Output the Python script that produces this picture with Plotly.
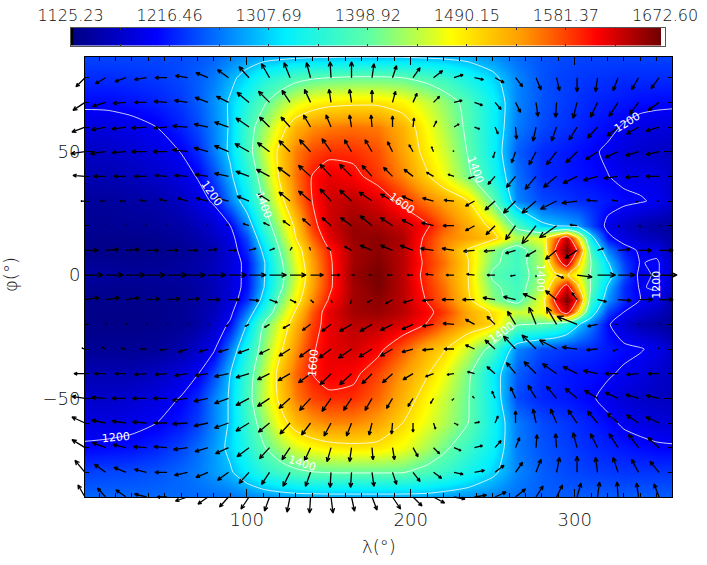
#%%
import numpy as np
import plotly.graph_objects as go

# Colour bar limits and labels
bar_vals = [1125.23, 1216.46, 1307.69, 1398.92, 1490.15, 1581.37, 1672.60]
bar_text = ['1125.23', '1216.46', '1307.69', '1398.92', '1490.15', '1581.37', '1672.60']

# Temperature field, rows north to south
lon = [0, 15, 30, 45, 60, 70, 80, 90, 100, 110, 120, 130, 140, 150, 165, 180, 195, 210, 220, 235, 250, 265, 280, 288, 295, 302, 310, 320, 330, 340, 350, 360]
lat = [90, 80, 70, 60, 50, 40, 30, 20, 15, 10, 5, 0, -5, -10, -15, -20, -30, -40, -50, -60, -70, -80, -90]
temp = [
    [1240, 1240, 1240, 1240, 1241, 1245, 1250, 1262, 1272, 1275, 1276, 1277, 1278, 1278, 1279, 1279, 1279, 1278, 1278, 1278, 1270, 1255, 1245, 1242, 1240, 1238, 1238, 1238, 1238, 1238, 1238, 1238],
    [1225, 1225, 1228, 1232, 1240, 1250, 1265, 1290, 1315, 1345, 1365, 1385, 1395, 1400, 1405, 1405, 1400, 1385, 1370, 1340, 1310, 1270, 1245, 1238, 1235, 1232, 1230, 1228, 1225, 1225, 1225, 1225],
    [1208, 1208, 1212, 1220, 1232, 1250, 1275, 1305, 1350, 1392, 1430, 1460, 1478, 1488, 1492, 1492, 1480, 1450, 1425, 1385, 1330, 1270, 1245, 1238, 1232, 1228, 1222, 1218, 1214, 1210, 1208, 1207],
    [1180, 1183, 1190, 1200, 1220, 1240, 1270, 1305, 1375, 1425, 1480, 1525, 1545, 1555, 1560, 1555, 1525, 1475, 1440, 1390, 1330, 1265, 1240, 1232, 1228, 1222, 1215, 1208, 1197, 1188, 1183, 1180],
    [1165, 1168, 1175, 1185, 1201, 1225, 1265, 1308, 1375, 1445, 1510, 1555, 1578, 1590, 1590, 1575, 1535, 1485, 1455, 1397, 1330, 1250, 1225, 1220, 1215, 1210, 1205, 1195, 1180, 1172, 1168, 1165],
    [1155, 1155, 1160, 1170, 1185, 1202, 1240, 1292, 1350, 1425, 1505, 1560, 1602, 1620, 1610, 1585, 1550, 1505, 1470, 1410, 1345, 1260, 1225, 1220, 1215, 1212, 1208, 1201, 1192, 1190, 1185, 1170],
    [1140, 1140, 1145, 1150, 1165, 1185, 1205, 1265, 1325, 1400, 1480, 1550, 1600, 1630, 1640, 1625, 1590, 1555, 1535, 1500, 1400, 1270, 1240, 1235, 1230, 1225, 1222, 1215, 1208, 1203, 1195, 1175],
    [1135, 1135, 1137, 1140, 1148, 1160, 1175, 1200, 1270, 1360, 1440, 1510, 1585, 1630, 1655, 1650, 1635, 1605, 1570, 1530, 1490, 1385, 1310, 1300, 1290, 1280, 1240, 1190, 1170, 1155, 1145, 1140],
    [1130, 1130, 1130, 1133, 1140, 1150, 1165, 1185, 1240, 1335, 1420, 1500, 1565, 1620, 1655, 1660, 1645, 1590, 1555, 1535, 1515, 1440, 1470, 1560, 1640, 1500, 1320, 1210, 1185, 1170, 1160, 1145],
    [1128, 1128, 1128, 1130, 1135, 1143, 1155, 1180, 1225, 1308, 1400, 1475, 1545, 1597, 1650, 1660, 1640, 1585, 1550, 1495, 1420, 1375, 1440, 1600, 1670, 1590, 1370, 1265, 1215, 1195, 1190, 1150],
    [1135, 1135, 1133, 1135, 1140, 1148, 1160, 1180, 1210, 1290, 1385, 1465, 1535, 1592, 1650, 1665, 1640, 1590, 1560, 1502, 1410, 1375, 1440, 1550, 1640, 1510, 1400, 1305, 1235, 1198, 1205, 1170],
    [1145, 1143, 1140, 1140, 1143, 1150, 1162, 1180, 1210, 1292, 1378, 1455, 1530, 1590, 1655, 1670, 1640, 1585, 1550, 1500, 1392, 1372, 1430, 1490, 1505, 1465, 1395, 1325, 1245, 1190, 1205, 1170],
    [1135, 1133, 1132, 1135, 1138, 1146, 1158, 1178, 1212, 1295, 1385, 1465, 1535, 1592, 1650, 1668, 1640, 1590, 1560, 1502, 1410, 1378, 1440, 1550, 1630, 1510, 1395, 1295, 1225, 1197, 1205, 1170],
    [1130, 1130, 1130, 1132, 1135, 1143, 1155, 1180, 1225, 1315, 1410, 1480, 1548, 1602, 1650, 1660, 1640, 1597, 1565, 1510, 1420, 1380, 1470, 1610, 1672, 1590, 1370, 1275, 1225, 1200, 1185, 1150],
    [1128, 1128, 1128, 1130, 1136, 1147, 1162, 1188, 1265, 1350, 1435, 1505, 1570, 1620, 1650, 1655, 1640, 1610, 1585, 1530, 1495, 1450, 1470, 1560, 1635, 1500, 1330, 1235, 1200, 1180, 1165, 1145],
    [1128, 1128, 1128, 1130, 1135, 1145, 1168, 1208, 1300, 1400, 1465, 1525, 1580, 1618, 1640, 1640, 1625, 1598, 1565, 1530, 1500, 1405, 1395, 1380, 1350, 1305, 1265, 1205, 1175, 1155, 1145, 1135],
    [1135, 1135, 1135, 1138, 1150, 1170, 1195, 1265, 1345, 1420, 1490, 1545, 1595, 1620, 1630, 1610, 1570, 1525, 1505, 1450, 1380, 1270, 1240, 1235, 1230, 1228, 1225, 1215, 1208, 1203, 1190, 1170],
    [1155, 1155, 1155, 1165, 1182, 1198, 1240, 1300, 1372, 1440, 1515, 1565, 1600, 1615, 1608, 1580, 1540, 1503, 1470, 1410, 1325, 1250, 1225, 1220, 1215, 1212, 1210, 1204, 1195, 1185, 1172, 1165],
    [1170, 1170, 1175, 1185, 1202, 1225, 1268, 1305, 1378, 1445, 1508, 1555, 1580, 1592, 1590, 1565, 1525, 1480, 1450, 1403, 1330, 1240, 1222, 1218, 1215, 1210, 1204, 1190, 1178, 1170, 1165, 1163],
    [1185, 1185, 1190, 1200, 1215, 1235, 1270, 1305, 1368, 1420, 1480, 1520, 1540, 1550, 1550, 1535, 1500, 1465, 1440, 1400, 1335, 1265, 1240, 1235, 1230, 1225, 1218, 1208, 1195, 1188, 1180, 1178],
    [1205, 1208, 1212, 1222, 1238, 1258, 1280, 1310, 1350, 1395, 1430, 1458, 1475, 1485, 1490, 1488, 1470, 1435, 1410, 1370, 1330, 1265, 1245, 1240, 1235, 1230, 1225, 1220, 1215, 1210, 1206, 1204],
    [1235, 1238, 1240, 1245, 1255, 1265, 1280, 1295, 1325, 1355, 1375, 1390, 1398, 1402, 1403, 1403, 1402, 1385, 1370, 1340, 1308, 1270, 1250, 1245, 1240, 1238, 1235, 1232, 1230, 1230, 1230, 1230],
    [1255, 1255, 1255, 1256, 1256, 1257, 1258, 1260, 1268, 1275, 1280, 1284, 1285, 1286, 1286, 1286, 1286, 1285, 1280, 1275, 1268, 1258, 1252, 1250, 1250, 1250, 1250, 1250, 1250, 1250, 1250, 1250],
]

# Wind vectors, one column every 12.5 deg and one row every 10 deg, north to south
wind_lon = [1.4, 13.9, 26.4, 38.9, 51.4, 63.9, 76.4, 88.9, 101.4, 113.9, 126.4, 138.9, 151.4, 163.9, 176.4, 188.9, 201.4, 213.9, 226.4, 238.9, 251.4, 263.9, 276.4, 288.9, 301.4, 313.9, 326.4, 338.9, 351.4]
wind_lat = [80, 70, 60, 50, 40, 30, 20, 10, 0, -10, -20, -30, -40, -50, -60, -70, -80, -90]
wind_u = [
    [-9, -10, -11, -12, -12, -12, -12, -11, -10, -8, -6, -4, -1, 0, 2, 4, 7, 9, 9, 9, 9, 7, 5, 3, 0, -2, -5, -7, -8],
    [-12, -13, -13, -12, -13, -13, -13, -12, -12, -11, -8, -6, -2, -2, 0, 3, 4, 6, 8, 8, 6, 5, 2, -1, -4, -7, -9, -9, -11],
    [-13, -14, -14, -15, -13, -15, -14, -14, -13, -10, -9, -7, -5, -2, -1, 0, 1, 3, 5, 5, 3, 1, -3, -5, -8, -10, -11, -12, -13],
    [-14, -15, -14, -15, -14, -15, -14, -14, -14, -12, -11, -11, -9, -7, -7, -5, -4, -2, -1, 0, -2, -4, -7, -10, -11, -12, -13, -13, -13],
    [-12, -12, -12, -12, -12, -13, -13, -14, -13, -13, -12, -12, -11, -12, -10, -9, -9, -7, -6, -6, -7, -9, -11, -13, -14, -14, -14, -13, -13],
    [-4, -5, -6, -7, -8, -10, -12, -12, -12, -11, -11, -12, -11, -12, -13, -12, -11, -11, -10, -9, -10, -12, -14, -16, -15, -11, -6, -3, -2],
    [0, 0, 0, 0, 0, 0, -1, -2, -6, -6, -7, -8, -9, -11, -12, -12, -11, -12, -11, -9, -9, -10, -14, -17, -7, 0, 1, 2, 1],
    [13, 13, 13, 12, 11, 10, 9, 8, 7, 5, 2, -1, -4, -7, -12, -12, -13, -13, -12, -11, -11, -10, -10, -11, -12, 6, 12, 13, 14],
    [18, 18, 19, 19, 20, 18, 18, 18, 17, 17, 16, 13, 9, 3, -3, -5, -6, -8, -8, -8, -8, -5, 0, 7, 15, 18, 17, 18, 18],
    [14, 14, 13, 13, 13, 12, 12, 11, 10, 8, 6, 3, 1, -1, -5, -7, -10, -11, -12, -12, -12, -12, -13, -11, -5, 9, 13, 14, 14],
    [2, 1, 1, 1, 1, 1, 0, -3, -4, -5, -7, -8, -9, -12, -12, -12, -11, -11, -11, -9, -8, -8, -7, -10, -20, -10, -3, 1, 1],
    [-3, -4, -5, -6, -7, -9, -9, -10, -11, -10, -11, -11, -12, -13, -13, -12, -11, -11, -10, -9, -10, -12, -14, -17, -15, -11, -5, 0, -1],
    [-11, -11, -11, -12, -12, -13, -13, -14, -13, -12, -12, -12, -11, -12, -10, -10, -10, -8, -7, -7, -8, -9, -12, -14, -14, -14, -13, -12, -11],
    [-13, -14, -14, -14, -14, -15, -14, -14, -13, -12, -11, -11, -9, -8, -7, -6, -5, -3, -2, -2, -3, -5, -8, -10, -12, -13, -13, -13, -13],
    [-13, -14, -14, -14, -13, -15, -14, -14, -13, -11, -10, -9, -7, -5, -3, -1, 0, 2, 4, 5, 3, 0, -3, -6, -9, -10, -11, -12, -13],
    [-13, -13, -13, -13, -13, -14, -13, -13, -12, -10, -8, -6, -4, -2, 1, 2, 5, 6, 7, 8, 6, 4, 1, -1, -4, -7, -9, -10, -11],
    [-10, -11, -12, -12, -12, -13, -12, -11, -10, -8, -7, -5, -1, -1, 2, 4, 7, 8, 9, 10, 9, 7, 5, 3, 0, -2, -5, -7, -9],
    [-7, -8, -10, -12, -10, -12, -10, -9, -8, -5, -3, -1, 2, 3, 5, 8, 9, 11, 11, 12, 11, 10, 7, 6, 4, 2, -1, -2, -5],
]
wind_v = [
    [-9, -6, -4, -2, 0, 2, 5, 8, 11, 14, 15, 15, 16, 16, 14, 12, 10, 7, 3, -2, -5, -9, -12, -13, -14, -14, -13, -12, -11],
    [-8, -4, -1, 0, 1, 2, 5, 6, 10, 11, 12, 13, 13, 13, 12, 11, 9, 6, 2, -3, -7, -10, -14, -15, -16, -15, -14, -12, -8],
    [-5, -3, -2, -1, -1, 1, 3, 5, 9, 10, 10, 12, 12, 12, 12, 11, 9, 6, 3, -2, -7, -12, -14, -14, -13, -11, -9, -7, -4],
    [-2, -2, -1, 0, 0, 2, 4, 6, 8, 9, 11, 12, 13, 12, 12, 10, 7, 5, 1, 0, -6, -11, -13, -13, -11, -8, -6, -4, -3],
    [1, 0, 0, 0, 1, 1, 2, 3, 5, 7, 9, 11, 12, 12, 11, 9, 7, 4, 2, -2, -8, -11, -13, -11, -7, -4, -2, -1, 0],
    [0, 0, 0, 1, 2, 3, 3, 3, 5, 7, 9, 10, 12, 11, 9, 7, 5, 3, 1, -5, -9, -12, -12, -8, -2, 1, 1, -1, 0],
    [0, 1, 1, 1, 1, 1, 1, 1, 2, 3, 5, 7, 8, 8, 10, 8, 6, 3, 0, -5, -9, -14, -18, -12, 1, 0, -1, -1, 0],
    [0, 1, 1, 0, 0, 0, 1, 0, 2, 2, 3, 3, 3, 4, 5, 5, 5, 2, 2, -1, -1, -3, -6, -9, -8, 2, 1, 0, 0],
    [0, 0, 0, 0, 0, 0, 0, 0, 0, 0, 0, 0, 0, 0, 0, 0, 0, 1, 0, 1, 0, -1, -2, -3, -2, 0, 0, 0, 0],
    [2, 2, 2, 1, 1, 1, 0, 0, -1, -3, -3, -3, -3, -4, -3, -4, -3, -1, 0, 0, 2, 3, 6, 9, 7, -2, -1, 0, 0],
    [0, 1, 1, 1, 0, 0, -1, -2, -2, -3, -4, -6, -7, -7, -7, -6, -5, -2, 1, 5, 8, 13, 17, 17, 8, -2, 0, 0, 0],
    [1, 2, 1, 0, -1, -3, -3, -3, -4, -5, -7, -8, -9, -9, -8, -7, -3, -1, 0, 4, 9, 13, 14, 9, 2, -1, -2, 0, 1],
    [0, 0, 0, -1, -1, -2, -2, -3, -4, -6, -7, -9, -11, -11, -10, -9, -6, -3, -1, 2, 7, 11, 12, 10, 7, 3, 0, -1, 0],
    [2, 1, 0, 0, 0, -2, -3, -5, -7, -8, -10, -12, -13, -12, -12, -10, -8, -5, -2, 2, 7, 11, 13, 12, 10, 8, 6, 4, 3],
    [6, 3, 2, 1, 0, -1, -3, -5, -8, -9, -11, -12, -13, -13, -12, -11, -9, -6, -2, 1, 7, 12, 14, 14, 13, 12, 10, 8, 6],
    [8, 5, 3, 1, 1, -2, -4, -6, -9, -11, -12, -13, -14, -14, -12, -12, -9, -6, -3, 2, 7, 10, 13, 14, 15, 14, 14, 13, 10],
    [12, 8, 5, 3, 0, -3, -5, -8, -11, -12, -14, -14, -15, -15, -14, -12, -9, -6, -2, 2, 7, 10, 13, 15, 16, 15, 15, 13, 11],
    [12, 9, 7, 3, 0, -4, -7, -10, -12, -14, -15, -16, -16, -14, -13, -12, -9, -6, -2, 2, 5, 8, 11, 12, 14, 15, 15, 14, 13],
]

# Contour labels of the original: text, lon, lat, rotation
contour_labels = [
    ('1200', 78.8, 33.2, 55), ('1400', 110, 28.4, 70), ('1400', 239.2, 42.6, 70),
    ('1600', 194.7, 29.2, 35), ('1200', 331.9, 62, -32), ('1400', 279, -1.2, 90),
    ('1200', 350, -4, -90), ('1600', 140.4, -35.7, -85), ('1200', 20.3, -66, -5),
    ('1400', 133.7, -76.6, 18), ('1400', 255.7, -23.5, -35),
]

#%%
# Rainbow table of the original
field_colors = [
    [0.0, '#000085'], [0.145, '#0000ff'], [0.36, '#00f0ff'], [0.5, '#5cffa8'],
    [0.64, '#ffff00'], [0.76, '#ff9a00'], [0.885, '#ff0000'], [1.0, '#700000'],
]
# The bar shows the whole table, first colour black and last colour white
bar_colors = [
    [0.0, '#000000'], [0.004, '#000000'], [0.005, '#000085'], [0.145, '#0000ff'],
    [0.36, '#00f0ff'], [0.5, '#5cffa8'], [0.64, '#ffff00'], [0.76, '#ff9a00'],
    [0.885, '#ff0000'], [0.992, '#700000'], [0.993, '#ffffff'], [1.0, '#ffffff'],
]

# Plot box in page pixels
box_left, box_right, box_top, box_bottom = 85, 672, 57, 497
page_w, page_h = 707, 565
lon_range = [1.4, 359.3]
lat_range = [-90, 88.4]
px_per_lon = (box_right - box_left) / (lon_range[1] - lon_range[0])
px_per_lat = (box_bottom - box_top) / (lat_range[1] - lat_range[0])

# Build the arrows as one line trace with gaps
arrow_x = []
arrow_y = []
for j, la in enumerate(wind_lat):
    for i, lo in enumerate(wind_lon):
        u = wind_u[j][i]
        v = wind_v[j][i]
        length = np.hypot(u, v)
        if length == 0:
            continue
        ang = np.arctan2(v, u)
        tip_x = lo + u / px_per_lon
        tip_y = la + v / px_per_lat
        arrow_x += [lo, tip_x]
        arrow_y += [la, tip_y]
        head = 0.32 * length
        for side in (2.72, -2.72):
            arrow_x += [tip_x + head * np.cos(ang + side) / px_per_lon, tip_x]
            arrow_y += [tip_y + head * np.sin(ang + side) / px_per_lat, tip_y]
        arrow_x.append(None)
        arrow_y.append(None)

fig = go.Figure()

# Smooth field underneath
fig.add_trace(go.Heatmap(
    x=lon, y=lat, z=temp, zmin=bar_vals[0], zmax=bar_vals[-1], colorscale=field_colors,
    showscale=False, zsmooth='best', hoverinfo='skip',
))
# Contour lines every 100
fig.add_trace(go.Contour(
    x=lon, y=lat, z=temp, showscale=False, hoverinfo='skip',
    contours=dict(coloring='none', start=1200, end=1600, size=100),
    line=dict(color='white', width=0.8, smoothing=0.6),
))
# Colour bar drawn as its own small heatmap so that the labels can sit on top
fig.add_trace(go.Heatmap(
    x=np.linspace(bar_vals[0], bar_vals[-1], 600), y=[0, 1],
    z=[np.linspace(bar_vals[0], bar_vals[-1], 600)] * 2,
    zmin=bar_vals[0], zmax=bar_vals[-1], colorscale=bar_colors, showscale=False, hoverinfo='skip',
    xaxis='x2', yaxis='y2',
))
# Arrows stick out of the box, lines are always clipped to their subplot,
# so they go on a hidden overlay subplot a bit bigger than the box with the same scale
pad_left, pad_right, pad_top, pad_bottom = 40, 30, 10, 40
fig.add_trace(go.Scatter(
    x=arrow_x, y=arrow_y, mode='lines', hoverinfo='skip', showlegend=False,
    line=dict(color='black', width=1.3, simplify=False), xaxis='x3', yaxis='y3',
))

text_font = dict(family='DejaVu Sans', size=18, color='#111111', weight=200)
axis_common = dict(
    ticks='inside', tickcolor='black', mirror='allticks', showline=True, linecolor='black',
    linewidth=1, showgrid=False, zeroline=False, tickfont=text_font, automargin=False,
)
fig.update_layout(
    width=page_w, height=page_h, autosize=False, showlegend=False,
    margin=dict(l=0, r=0, t=0, b=0, autoexpand=False), paper_bgcolor='white', plot_bgcolor='rgba(0,0,0,0)',
    xaxis=dict(domain=[box_left / page_w, box_right / page_w], range=lon_range, tickvals=[100, 200, 300],
               ticklen=8, ticklabelstandoff=6,
               minor=dict(ticks='inside', ticklen=4, dtick=10, tickcolor='black', showgrid=False),
               **axis_common),
    yaxis=dict(domain=[1 - box_bottom / page_h, 1 - box_top / page_h], range=lat_range, tickvals=[-50, 0, 50],
               ticktext=['−50', '0', '50'], ticklen=8,
               minor=dict(ticks='inside', ticklen=4, dtick=10, tickcolor='black', showgrid=False),
               **axis_common),
    xaxis2=dict(domain=[70.5 / page_w, 665 / page_w], range=[bar_vals[0], bar_vals[-1]], anchor='y2',
                side='top', tickvals=bar_vals, ticktext=bar_text, ticks='inside', ticklen=2,
                tickcolor='#333333', mirror='allticks', showline=True, linecolor='#555555',
                linewidth=1, showgrid=False, zeroline=False, automargin=False,
                tickfont=dict(family='DejaVu Sans', size=16, color='#111111', weight=200),
                minor=dict(ticks='inside', ticklen=2, tick0=bar_vals[0], dtick=(bar_vals[-1] - bar_vals[0]) / 12,
                           tickcolor='#333333', showgrid=False)),
    yaxis2=dict(domain=[1 - 45.5 / page_h, 1 - 28 / page_h], range=[0, 1], anchor='x2', showticklabels=False,
                ticks='', showgrid=False, zeroline=False, showline=True, linecolor='#555555',
                linewidth=1, mirror=True, automargin=False),
    xaxis3=dict(domain=[(box_left - pad_left) / page_w, (box_right + pad_right) / page_w], anchor='y3', visible=False,
                range=[lon_range[0] - pad_left / px_per_lon, lon_range[1] + pad_right / px_per_lon], automargin=False),
    yaxis3=dict(domain=[1 - (box_bottom + pad_bottom) / page_h, 1 - (box_top - pad_top) / page_h], anchor='x3', visible=False,
                range=[lat_range[0] - pad_bottom / px_per_lat, lat_range[1] + pad_top / px_per_lat], automargin=False),
)

# Axis titles
fig.add_annotation(text='λ(°)', xref='paper', yref='paper', x=0.5 * (box_left + box_right) / page_w,
                   y=1 - 546 / page_h, xanchor='center', yanchor='middle', showarrow=False, font=text_font)
fig.add_annotation(text='φ(°)', xref='paper', yref='paper', x=10 / page_w,
                   y=1 - 275 / page_h, xanchor='center', yanchor='middle', showarrow=False, font=text_font, textangle=-90)

# Contour labels
for label, lab_lon, lab_lat, lab_angle in contour_labels:
    fig.add_annotation(text=label, x=lab_lon, y=lab_lat, showarrow=False, textangle=lab_angle,
                       font=dict(family='DejaVu Sans', size=11, color='white'))

fig.write_html("out.html", config=dict(displayModeBar=False),
               post_script="document.body.style.margin='0';")
